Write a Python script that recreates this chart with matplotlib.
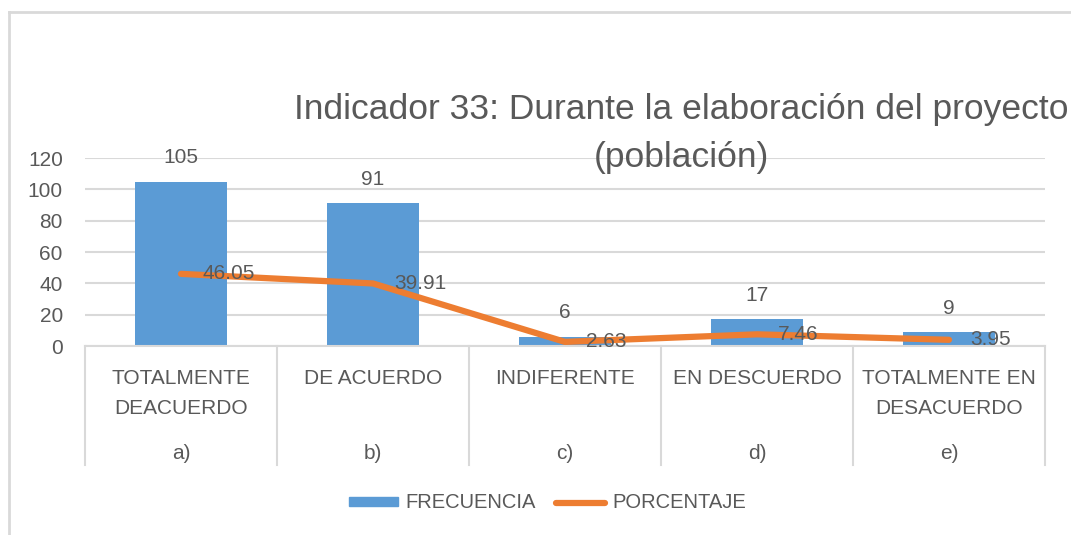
import matplotlib.pyplot as plt
from matplotlib.lines import Line2D
from matplotlib.patches import Patch
import numpy as np

plt.rcParams['font.family'] = ['Liberation Sans', 'DejaVu Sans']

categorias = ['TOTALMENTE\nDEACUERDO', 'DE ACUERDO', 'INDIFERENTE',
              'EN DESCUERDO', 'TOTALMENTE EN\nDESACUERDO']
letras = ['a)', 'b)', 'c)', 'd)', 'e)']
frecuencia = [105, 91, 6, 17, 9]
porcentaje = [46.05, 39.91, 2.63, 7.46, 3.95]
titulo = ['Indicador 33: Durante la elaboración del proyecto', '(población)']

azul = '#5B9BD5'
naranja = '#ED7D31'
gris_txt = '#595959'
gris_linea = '#D9D9D9'

W, H = 1071, 535
fig = plt.figure(figsize=(W / 100, H / 100), dpi=100)
ax = fig.add_axes([85 / W, 1 - 346 / H, 960 / W, 188 / H])

x = np.arange(len(categorias))
ax.bar(x, frecuencia, width=0.48, color=azul, zorder=2)
ax.plot(x, porcentaje, color=naranja, lw=4.5, solid_capstyle='round', zorder=3)

for xi, v in zip(x, frecuencia):
    ax.text(xi, v + 9, str(v), ha='center', va='bottom', fontsize=15, color=gris_txt)
for xi, v in zip(x, porcentaje):
    ax.text(xi + 0.11, v, f'{v:.2f}', ha='left', va='center', fontsize=15,
            color=gris_txt, zorder=4)

ax.set_xlim(-0.5, len(categorias) - 0.5)
ax.set_ylim(0, 120)
ax.set_yticks(range(0, 121, 20))
ax.tick_params(axis='y', length=0, labelsize=15, labelcolor=gris_txt, pad=16)
ax.set_xticks([])
ax.grid(axis='y', color=gris_linea, lw=1.5, zorder=0)
for s in ['top', 'right', 'left']:
    ax.spines[s].set_visible(False)
ax.spines['bottom'].set_color(gris_linea)
ax.spines['bottom'].set_linewidth(1.5)

# category labels and separators under the axis
trans = ax.get_xaxis_transform()
for xi, cat, let in zip(x, categorias, letras):
    ax.text(xi, -0.125, cat, transform=trans, ha='center', va='top',
            fontsize=15, color=gris_txt, linespacing=1.7)
    ax.text(xi, -0.52, let, transform=trans, ha='center', va='top',
            fontsize=15, color=gris_txt)
for b in np.arange(-0.5, len(categorias), 1.0):
    ax.plot([b, b], [0, -0.635], transform=trans, color=gris_linea, lw=1.5,
            clip_on=False)

# two-line title, one text per line
for linea, yp in zip(titulo, [110, 158]):
    fig.text(681 / W, 1 - yp / H, linea, ha='center', va='center', fontsize=25.5,
             color=gris_txt)

handles = [Patch(color=azul), Line2D([0], [0], color=naranja, lw=4.5, solid_capstyle='round')]
fig.legend(handles, ['FRECUENCIA', 'PORCENTAJE'], loc='center',
           bbox_to_anchor=(548 / W, 1 - 503 / H), ncol=2, frameon=False,
           fontsize=14.5, labelcolor=gris_txt, handlelength=2.4, handleheight=0.35,
           columnspacing=1.0, handletextpad=0.4)

# chart frame
fig.add_artist(Line2D([9 / W, 1], [1 - 12 / H, 1 - 12 / H], color=gris_linea, lw=2))
fig.add_artist(Line2D([9 / W, 9 / W], [0, 1 - 12 / H], color=gris_linea, lw=2))

fig.savefig('out.png', dpi=100, facecolor='white')
